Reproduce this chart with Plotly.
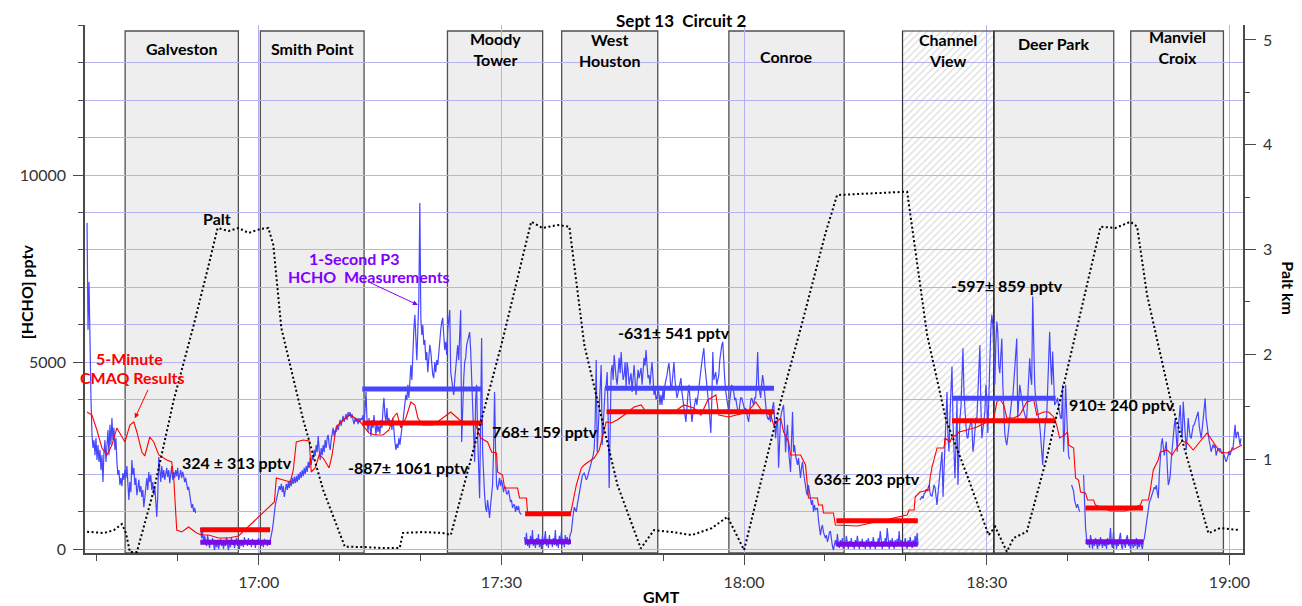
import plotly.graph_objects as go
import pandas as pd

BASE = pd.Timestamp("2000-09-13 16:00:00")


def at(minutes):
    return (BASE + pd.to_timedelta(minutes, unit="m")).to_pydatetime()


# ---------------- data ----------------
SITES = ["Galveston", "Smith Point", "Moody<br>Tower", "West<br>Houston", "Conroe",
         "Channel<br>View", "Deer Park", "Manviel<br>Croix"]
SITE_START = [43.48, 60.2, 83.33, 97.45, 118.12, 139.59, 150.92, 167.8]   # minutes after 16:00
SITE_END = [57.48, 73.02, 95.1, 109.33, 132.37, 150.85, 165.7, 179.26]
SITE_HATCHED = [False, False, False, False, False, True, False, False]

# 1-second P3 HCHO measurements (pptv), segments sampled every ~7.4 s
HCHO_SEG_START = [38.77, 52.81, 92.85, 141.76, 160.49, 161.97]
HCHO_STEP_MIN = 0.1232
HCHO_A = [8720, 5860, 7140, 4790, 3980, 3050, 2700, 2910, 2510, 2970,
          2380, 2780, 2330, 2650, 2110, 2510, 1790, 2590, 2910, 2330,
          2780, 3180, 2510, 3320, 2780, 3500, 2910, 3240, 2650, 2970,
          2330, 1980, 2110, 1710, 1900, 1680, 2030, 1850, 2110, 1900,
          2220, 1630, 1310, 1790, 1520, 2380, 1980, 2170, 1710, 1900,
          1440, 1630, 1850, 1520, 1680, 1390, 1580, 1120, 1310, 1630,
          1900, 1580, 2060, 1790, 1980, 1580, 1790, 1440, 1680, 1310,
          860, 1440, 2460, 2110, 1790, 2220, 1900, 2110, 1850, 2010,
          2170, 1930, 2110, 1760, 2010, 2220, 1850, 2060, 1900, 2110,
          1950, 2170, 1850, 2010, 2110, 1900, 2060, 1950, 1790, 1900,
          1680, 1580, 1660, 1440, 1230, 1100, 1200, 990, 1100, 960]
HCHO_B = [560, 290, 450, 190, 350, 240, 80, 370, 190, 30,
          240, 130, 290, 80, -30, 190, 50, 240, 0, 130,
          270, 80, 190, 0, 210, 80, 320, 110, -30, 190,
          50, 290, 110, 210, 30, 160, 290, 80, 190, 0,
          240, 80, 210, 50, 320, 130, 240, 80, 290, 110,
          210, 50, 270, 110, 190, 30, 240, 110, 290, 130,
          240, 80, 210, 50, 270, 130, 240, 80, 210, 110,
          240, 350, 510, 720, 990, 1180, 1310, 1470, 1580, 1680,
          1580, 1740, 1520, 1680, 1390, 1630, 1740, 1580, 1790, 1630,
          1850, 1680, 1900, 1740, 1930, 1760, 1950, 1790, 2010, 1850,
          2060, 1900, 2110, 1950, 2170, 2010, 2220, 2060, 2330, 2170,
          2430, 2250, 2510, 2380, 2650, 2490, 2780, 2590, 3020, 2650,
          2380, 2700, 2510, 2780, 2590, 2910, 2700, 2970, 3050, 2780,
          2650, 2910, 3130, 3240, 3020, 3180, 3130, 3320, 3180, 3340,
          3450, 3290, 3500, 3560, 3400, 3500, 3610, 3450, 3660, 3560,
          3660, 3500, 3610, 3450, 3340, 3500, 3400, 3500, 3340, 3500,
          3400, 3500, 3450, 3580, 3320, 3720, 4200, 3450, 3130, 3500,
          3240, 3020, 3450, 3240, 3580, 3320, 3050, 3400, 3130, 3290,
          3080, 3450, 3240, 3720, 4040, 3580, 3400, 3770, 3320, 3500,
          3290, 3450, 3180, 3500, 3050, 2860, 2650, 2810, 2700, 2970,
          2780, 3130, 3240, 3400, 3660, 3850, 4120, 3980, 4390, 4040,
          4650, 4920, 4520, 5320, 5860, 6260, 5460, 5050, 5860, 6660,
          9250, 6180, 5720, 5990, 5460, 5590, 5050, 5270, 4730, 5050,
          5460, 5270, 4840, 4650, 4570, 5000, 4730, 5050, 4920, 5320,
          5590, 5860, 6070, 6180, 5720, 5320, 5540, 5190, 5860, 6260,
          6390, 4730, 4520, 4250, 4120, 4520, 4920, 5270, 5450, 5050,
          5860, 6390, 2860, 3980, 4520, 5000, 5110, 5450, 5590, 5720,
          5800, 5320, 4520, 4040, 3180, 2330, 3980, 4390, 3050, 2110,
          1360, 3450, 5640, 2590, 1850, 1440, 1100, 990, 1310, 1040,
          830, 1180, 1440, 1710, 2650, 4200, 2650, 1710, 1580, 1790,
          1900, 1680, 1850, 1710, 1520, 1680, 1630, 1470, 1470, 1580,
          1360, 1260, 1310, 1100, 1180, 1180, 990, 1150, 1040, 1150,
          990, 940, 940]
HCHO_C = [320, 110, 430, 80, 240, 30, 350, 130, 510, 80,
          240, 30, 290, 110, 400, 50, 210, 0, 350, 110,
          240, 480, 80, 270, 30, 370, 130, 240, 50, 290,
          110, 510, 80, 210, 30, 350, 130, 450, 110, 270,
          50, 370, 160, 320, 110, 290, 400, 450, 780, 950,
          1120, 1050, 990, 1180, 1350, 1520, 1650, 1790, 1950, 2000,
          2030, 1950, 1850, 1900, 2000, 2110, 2200, 2300, 2450, 2510,
          2700, 3450, 5050, 2590, 3180, 3850, 4520, 4920, 2780, 3450,
          4040, 4310, 4390, 4730, 3450, 1630, 3180, 4730, 4920, 4520,
          5190, 4790, 4570, 4390, 4920, 5110, 4700, 5270, 4840, 4520,
          4650, 5000, 4310, 5000, 4790, 4390, 4570, 4700, 4200, 4730,
          4920, 4520, 4120, 4470, 4790, 4570, 4700, 4840, 4390, 4790,
          5110, 4900, 5320, 4920, 4570, 4650, 4390, 4730, 5000, 4570,
          4120, 4300, 4000, 4040, 4250, 4170, 3850, 4120, 3850, 4250,
          3980, 4390, 4500, 4650, 4840, 4970, 4650, 4250, 4390, 4730,
          5000, 4520, 4200, 4040, 4150, 4310, 4470, 4570, 4200, 3930,
          3720, 3580, 3400, 3850, 4120, 4390, 3980, 3580, 3400, 3600,
          3770, 3980, 4040, 3850, 4120, 4300, 4520, 4730, 5000, 5200,
          5370, 4920, 4570, 4390, 4100, 3850, 3450, 3100, 3980, 5270,
          4520, 4650, 4730, 4390, 4570, 4650, 5050, 5320, 5450, 5540,
          4920, 4520, 4200, 3980, 3850, 3660, 3980, 4250, 4390, 4300,
          4200, 3980, 4040, 3850, 3720, 3580, 3850, 4040, 4040, 3950,
          3850, 3720, 3770, 3580, 3500, 3400, 3720, 3980, 4040, 3950,
          3850, 4040, 4040, 4520, 5270, 4390, 4200, 4040, 4390, 4650,
          4450, 4120, 3770, 3600, 3500, 3450, 3580, 3400, 3660, 3850,
          3930, 3450, 2960, 3320, 3500, 2170, 2910, 3500, 3660, 3770,
          3850, 3320, 2590, 3050, 3320, 2650, 2330, 2060, 2910, 3660,
          2590, 2780, 2510, 2400, 2250, 2430, 2110, 1900, 2170, 2330,
          2060, 1850, 1630, 1500, 1440, 1710, 1520, 1360, 1180, 1310,
          990, 1180, 1040, 1070, 1100, 780, 560, 370, 560, 640,
          450, 330, 290, 370, 190, 290, 450, 480, 240, 80,
          -30, 110, 240, 80, 400, 130, 30, 240, 80, 290,
          0, 190, 80, 350, 110, 0, 210, 80, 290, 50,
          160, 0, 240, 80, 350, 110, 0, 210, 80, 270,
          50, 190, 0, 240, 80, 290, 110, 0, 210, 80,
          320, 110, 0, 190, 80, 290, 130, 480, 110, 0,
          210, 80, 290, 130, 560, 110, 0, 240, 80, 290,
          130, 0, 240, 80, 270, 110, 480, 80, 240, 30,
          190, 80, 290, 110, 0, 240, 80, 320, 130, 30,
          240, 80, 350, 130, 430, 110]
HCHO_D = [1310, 1380, 1410, 1350, 1480, 1500, 1600, 1550, 1650, 1710,
          1500, 1420, 1410, 1600, 1710, 1650, 1300, 1180, 1500, 1800,
          1980, 2400, 2600, 1400, 2200, 2960, 3500, 4200, 3000, 2600,
          3600, 4300, 4880, 3400, 2500, 1890, 2800, 3980, 1710, 3000,
          3500, 3800, 4560, 5370, 4200, 3600, 3300, 3000, 2960, 3200,
          3320, 3400, 3320, 2600, 2800, 3200, 3500, 3500, 4300, 5000,
          5450, 3800, 2960, 3200, 3500, 3670, 4390, 4000, 3100, 3800,
          5000, 5900, 6260, 5990, 4800, 4390, 5500, 6080, 5800, 4900,
          4700, 5200, 5630, 4390, 3700, 3100, 2900, 2780, 3000, 3300,
          3500, 3800, 4000, 4040, 4500, 5000, 5300, 5630, 3500, 4000,
          4390, 4200, 4000, 3940, 3700, 3600, 3500, 3500, 4000, 4600,
          5100, 4600, 4390, 6750, 5000, 4390, 4000, 3850, 3600, 3450,
          3320, 3000, 2600, 2250, 2800, 3300, 3500, 3500, 4200, 5000,
          5810, 5000, 4390, 5280, 4600, 3850, 3900, 4000, 4040, 3800,
          3600, 3500, 3500, 4390, 2600, 3200, 4390, 3500, 3000, 2510,
          2400]
HCHO_E = [1710, 1600, 1550, 1300, 1180, 1100, 1200, 1040, 1000]
HCHO_F = [1980, 1200, 560, 290, 110, 240, 30, 370, 130, 0,
          240, 80, 290, 110, 0, 210, 80, 320, 130, 30,
          240, 80, 190, 0, 290, 110, 210, 560, 130, 30,
          450, 110, 240, 0, 190, 80, 290, 430, 80, 0,
          240, 110, 30, 290, 370, 80, 210, 0, 240, 110,
          30, 190, 80, 290, 0, 160, 50, 240, 80, 0,
          210, 290, 480, 700, 850, 1180, 1250, 1310, 1400, 1450,
          1530, 1650, 1600, 1710, 1500, 1360, 2000, 2600, 2800, 2960,
          2600, 2500, 2700, 2870, 2200, 1710, 1800, 1980, 2400, 2780,
          3000, 3300, 3500, 2800, 2600, 3200, 3600, 3850, 3200, 2960,
          3940, 3500, 3000, 2650, 3000, 3500, 3200, 3000, 2960, 3100,
          3300, 3320, 3400, 3500, 3600, 3670, 3300, 3100, 2960, 3200,
          3500, 3800, 4030, 3500, 3300, 3000, 2900, 2780, 2600, 2700,
          2800, 2700, 2780, 2500, 2600, 2700, 2650, 2690, 2600, 2550,
          2600, 2500, 2400, 2330, 2400, 2500, 2600, 2510, 2600, 2700,
          2690, 3000, 3320, 2960, 3100, 3130, 2900, 2780, 2960]
HCHO_SEGS = [HCHO_A, HCHO_B, HCHO_C, HCHO_D, HCHO_E, HCHO_F]

# 5-minute CMAQ results (pptv)
CMAQ_T = [38.77, 39.38, 39.99, 40.61, 41.23, 41.85, 42.46, 43.08, 43.45, 44.07,
          44.56, 44.93, 45.55, 45.91, 46.53, 47.02, 47.64, 48.63, 49.24, 49.49,
          49.86, 50.48, 51.33, 52.32, 52.93, 53.8, 55.03, 56.26, 57.49, 61.93,
          62.17, 63.04, 63.9, 64.27, 64.64, 65.5, 66.24, 66.49, 66.98, 67.47,
          67.96, 68.7, 69.07, 69.57, 70.43, 71.29, 71.91, 72.65, 73.63, 74.37,
          75.36, 76.1, 76.59, 77.08, 77.57, 78.19, 78.81, 79.3, 79.67, 80.28,
          81.52, 82.75, 83.73, 84.84, 85.83, 86.69, 87.43, 88.29, 88.79, 89.4,
          89.52, 90.14, 90.39, 91.99, 92.24, 93.1, 93.23, 95.69, 98.53, 98.77,
          99.26, 99.88, 100.24, 100.74, 101.47, 102.09, 102.46, 102.95, 103.57, 104.31,
          105.17, 106.4, 107.27, 108.0, 109.73, 111.33, 112.56, 113.79, 114.66, 115.52,
          116.51, 116.88, 118.11, 120.45, 121.44, 122.3, 123.29, 123.66, 124.52, 124.89,
          125.26, 125.51, 125.75, 126.98, 127.6, 127.96, 129.07, 129.19, 129.69, 129.81,
          131.04, 131.29, 134.0, 136.96, 139.3, 140.16, 140.41, 141.02, 141.15, 141.76,
          142.87, 142.99, 143.24, 143.86, 144.72, 144.84, 145.46, 145.71, 146.32, 146.57,
          147.56, 148.79, 150.02, 150.88, 151.25, 151.62, 152.11, 152.48, 153.35, 154.08,
          154.95, 155.81, 156.18, 157.04, 157.66, 158.27, 158.64, 159.01, 159.63, 160.0,
          160.12, 160.74, 160.98, 161.35, 161.6, 162.21, 162.46, 163.2, 163.44, 165.29,
          167.14, 168.99, 169.23, 169.97, 170.22, 170.59, 171.2, 171.45, 172.31, 172.93,
          173.3, 174.16, 174.78, 175.52, 177.24, 177.98, 178.84, 179.7, 181.55]
CMAQ_V = [3663, 3583, 3182, 2701, 2514, 2781, 3236, 2995, 2861, 3316,
          3396, 3129, 2594, 2487, 2995, 2861, 2514, 2380, 2326, 1899,
          508, 455, 588, 428, 374, 374, 294, 294, 348, 1257,
          1899, 1845, 1792, 2112, 2861, 2915, 2888, 2059, 2166, 2514,
          2433, 2166, 2514, 3262, 3449, 3583, 3503, 3369, 3102, 3048,
          3048, 3182, 3503, 3637, 3236, 3503, 3931, 3851, 3503, 3316,
          3316, 3503, 3663, 3449, 3369, 3396, 2968, 2861, 2594, 2567,
          2059, 1979, 1631, 1631, 1364, 1364, 963, 936, 936, 1177,
          1711, 2166, 2246, 2326, 2433, 2647, 2995, 3396, 3369, 3449,
          3583, 3797, 3851, 3637, 3663, 3663, 3851, 3770, 3583, 3984,
          4118, 3583, 3530, 3663, 3931, 3663, 3583, 3316, 3503, 3129,
          2968, 2861, 2514, 2514, 2246, 1364, 1364, 1177, 1177, 963,
          963, 642, 615, 749, 856, 909, 1043, 1043, 1390, 1524,
          1578, 1899, 2193, 2701, 2701, 2968, 2861, 2995, 3048, 3129,
          3182, 3262, 3396, 3503, 3931, 4011, 3851, 3503, 3503, 3583,
          3931, 3984, 3583, 3663, 3663, 3530, 3316, 2968, 3048, 3129,
          2781, 2701, 1899, 1845, 1524, 1497, 1310, 1310, 1177, 1016,
          1016, 1177, 1310, 1310, 1578, 2112, 2380, 2594, 2647, 2514,
          2647, 2888, 2834, 2647, 3102, 2861, 2594, 2567, 2781]

# Pressure altitude (km)
PALT_T = [38.78, 40.87, 42.1, 43.08, 43.58, 44.07, 44.93, 47.03, 49.49, 51.96,
          53.81, 54.91, 56.27, 57.5, 58.73, 60.2, 61.19, 61.8, 62.79, 65.5,
          67.97, 70.64, 72.9, 75.36, 77.42, 77.83, 80.29, 82.75, 83.74, 85.22,
          87.07, 90.15, 93.68, 95.08, 96.92, 98.4, 100.25, 102.47, 104.35, 107.23,
          108.87, 111.09, 113.55, 116.02, 117.95, 120.0, 122.18, 124.52, 127.11, 130.06,
          131.5, 135.73, 140.16, 142.63, 144.97, 147.56, 150.23, 151.04, 152.49, 153.31,
          154.95, 157.41, 159.88, 162.22, 164.07, 165.91, 167.76, 168.59, 169.82, 172.69,
          175.15, 177.41, 178.85, 181.31]
PALT_KM = [0.306, 0.294, 0.322, 0.379, 0.294, 0.112, 0.112, 0.704, 1.563, 2.279,
           2.852, 3.205, 3.177, 3.205, 3.158, 3.196, 3.205, 3.043, 2.251, 1.372,
           0.704, 0.163, 0.16, 0.15, 0.15, 0.294, 0.303, 0.294, 0.274, 0.704,
           1.26, 2.136, 3.265, 3.205, 3.234, 3.218, 2.088, 1.372, 0.752, 0.147,
           0.322, 0.303, 0.274, 0.341, 0.449, 0.131, 0.80, 1.547, 2.279, 3.155,
           3.52, 3.539, 3.552, 2.184, 1.372, 0.847, 0.274, 0.354, 0.115, 0.246,
           0.306, 1.01, 1.833, 2.613, 3.218, 3.205, 3.265, 3.218, 2.566, 1.579,
           0.895, 0.291, 0.341, 0.322]

# Mean levels over the sampled intervals (pptv)
MEAS_MEAN_START = [72.8, 102.87, 145.71]
MEAS_MEAN_END = [87.6, 123.69, 158.52]
MEAS_MEAN_VAL = [4280, 4300, 4030]
CMAQ_MEAN_START = [52.77, 72.81, 92.93, 102.99, 131.41, 145.71, 162.21]
CMAQ_MEAN_END = [61.4, 87.68, 98.6, 123.73, 141.48, 158.52, 169.32]
CMAQ_MEAN_VAL = [516, 3369, 944, 3671, 757, 3431, 1096]
LOW_MEAN_START = [52.77, 92.93, 131.41, 162.21]
LOW_MEAN_END = [61.53, 98.6, 141.48, 169.32]
LOW_MEAN_VAL = [179, 195, 125, 195]

DIFF_TEXT = ["324 ± 313 pptv", "-887± 1061 pptv", "768± 159 pptv", "-631± 541 pptv",
             "636± 203 pptv", "-597± 859 pptv", "910± 240 pptv"]

YTICK_VALS = [0, 5000, 10000]
YTICK_TEXT = ["0", "5000", "10000"]
Y2TICK_VALS = [1, 2, 3, 4, 5]

# ---------------- layout constants ----------------
Y_MIN, Y_MAX = -107, 14011
Y2_MIN, Y2_MAX = 0.103, 5.143
BOX_TOP = 13851
X_RANGE = [at(38.52), at(181.68)]
FONT = "Lato, 'Liberation Sans', Arial, sans-serif"
GRID = "#b3b3f2"
AXC = "#4a4a4a"
BLUE = "#4646ff"
RED = "#ff0000"
PURPLE = "#7a0ae6"

DIFF_POS = [(57.25, 2326), (78.56, 2166), (95.44, 3129), (111.33, 5776),
            (135.17, 1872), (152.48, 7033), (166.77, 3877)]
SITE_LABEL_Y = [13370, 13370, 13357, 13343, 13156, 13330, 13504, 13410]

fig = go.Figure()

# site boxes
shapes = []
for s, e, h in zip(SITE_START, SITE_END, SITE_HATCHED):
    if h:
        fig.add_trace(go.Scatter(
            x=[at(s), at(e), at(e), at(s), at(s)],
            y=[Y_MIN, Y_MIN, BOX_TOP, BOX_TOP, Y_MIN],
            mode="lines", fill="toself", fillcolor="rgba(0,0,0,0)",
            fillpattern=dict(shape="/", fgcolor="#b8b8b8", bgcolor="rgba(255,255,255,0)",
                             size=5, solidity=0.25),
            line=dict(color="#333333", width=1.2), hoverinfo="skip"))
    else:
        shapes.append(dict(type="rect", xref="x", yref="y", x0=at(s), x1=at(e),
                           y0=Y_MIN, y1=BOX_TOP, layer="below",
                           fillcolor="#eeeeee", line=dict(color="#505050", width=1.3)))

# 1-second measurements
hx, hy = [], []
for start, seg in zip(HCHO_SEG_START, HCHO_SEGS):
    for i, v in enumerate(seg):
        hx.append(at(start + i * HCHO_STEP_MIN))
        hy.append(v)
    hx.append(None)
    hy.append(None)
fig.add_trace(go.Scatter(x=hx, y=hy, mode="lines", line=dict(color=BLUE, width=1.2),
                         connectgaps=False, name="1-Second P3 HCHO"))

# CMAQ
fig.add_trace(go.Scatter(x=[at(t) for t in CMAQ_T], y=CMAQ_V, mode="lines",
                         line=dict(color=RED, width=1.1), name="CMAQ"))


def bars(starts, ends, vals, color):
    bx, by = [], []
    for s, e, v in zip(starts, ends, vals):
        bx += [at(s), at(e), None]
        by += [v, v, None]
    return go.Scatter(x=bx, y=by, mode="lines", line=dict(color=color, width=5),
                      hoverinfo="skip")


fig.add_trace(bars(MEAS_MEAN_START, MEAS_MEAN_END, MEAS_MEAN_VAL, BLUE))
fig.add_trace(bars(CMAQ_MEAN_START, CMAQ_MEAN_END, CMAQ_MEAN_VAL, RED))
fig.add_trace(bars(LOW_MEAN_START, LOW_MEAN_END, LOW_MEAN_VAL, PURPLE))

# Palt
fig.add_trace(go.Scatter(x=[at(t) for t in PALT_T], y=PALT_KM, yaxis="y2", mode="lines",
                         line=dict(color="black", width=2, dash="2px,2.5px"), name="Palt"))

ann = []
bold = dict(family=FONT, size=16, color="black")
for name, s, e, y in zip(SITES, SITE_START, SITE_END, SITE_LABEL_Y):
    ann.append(dict(x=at((s + e) / 2), y=y, xref="x", yref="y", text="<b>%s</b>" % name,
                    showarrow=False, font=bold, xanchor="center", yanchor="middle"))
for txt, (t, v) in zip(DIFF_TEXT, DIFF_POS):
    ann.append(dict(x=at(t), y=v, xref="x", yref="y", text="<b>%s</b>" % txt,
                    showarrow=False, font=bold, xanchor="center", yanchor="middle"))
ann.append(dict(x=at(54.78), y=8824, xref="x", yref="y", text="<b>Palt</b>",
                showarrow=False, font=bold))
pfont = dict(family=FONT, size=16, color="#8000ff")
ann.append(dict(x=at(71.78), y=7755, xref="x", yref="y", text="<b>1-Second P3</b>",
                showarrow=False, font=pfont))
ann.append(dict(x=at(73.63), y=7273, xref="x", yref="y", text="<b>HCHO\u00a0 Measurements</b>",
                showarrow=False, font=pfont))
ann.append(dict(x=at(79.67), y=6525, ax=at(73.51), ay=7148, xref="x", yref="y",
                axref="x", ayref="y", text="", showarrow=True, arrowhead=2,
                arrowsize=1, arrowwidth=1, arrowcolor="#8000ff"))
rfont = dict(family=FONT, size=16, color=RED)
ann.append(dict(x=at(44.06), y=5107, xref="x", yref="y", text="<b>5-Minute</b>",
                showarrow=False, font=rfont))
ann.append(dict(x=at(44.39), y=4599, xref="x", yref="y", text="<b>CMAQ Results</b>",
                showarrow=False, font=rfont))
ann.append(dict(x=at(44.68), y=3495, ax=at(46.4), ay=4297, xref="x", yref="y",
                axref="x", ayref="y", text="", showarrow=True, arrowhead=2,
                arrowsize=1, arrowwidth=1, arrowcolor=RED))
# titles
ann.append(dict(x=0.515, y=1.0076, xref="paper", yref="paper",
                text="<b>Sept 13\u00a0 Circuit 2</b>", showarrow=False,
                font=dict(family=FONT, size=17, color="black"), yanchor="middle"))
ann.append(dict(x=-0.0508, y=0.494, xref="paper", yref="paper", text="<b>[HCHO] pptv</b>",
                textangle=-90, showarrow=False, font=bold, xanchor="center", yanchor="middle"))
ann.append(dict(x=1.0385, y=0.502, xref="paper", yref="paper", text="<b>Palt km</b>",
                textangle=90, showarrow=False, font=bold, xanchor="center", yanchor="middle"))
ann.append(dict(x=0.498, y=-0.0833, xref="paper", yref="paper", text="<b>GMT</b>",
                showarrow=False, font=bold, xanchor="center", yanchor="middle"))

tickfont = dict(family=FONT, size=16, color="#333333")
# the page body has an 8px margin, so the figure is drawn 8px right/down
fig.update_layout(
    width=1294, height=598,
    margin=dict(l=73, r=59, t=17, b=53),
    paper_bgcolor="white", plot_bgcolor="white",
    showlegend=False,
    shapes=shapes,
    annotations=ann,
    xaxis=dict(type="date", range=X_RANGE, tickformat="%H:%M",
               tick0="2000-09-13 17:00:00", dtick=30 * 60 * 1000,
               showgrid=True, gridcolor=GRID, gridwidth=1,
               ticks="outside", ticklen=10, tickcolor=AXC, tickwidth=1.2,
               showline=True, linecolor=AXC, linewidth=1.5,
               tickfont=tickfont, ticklabelstandoff=4, zeroline=False,
               minor=dict(dtick=10 * 60 * 1000, tick0="2000-09-13 17:00:00",
                          ticks="outside", ticklen=6, tickcolor=AXC, showgrid=False)),
    yaxis=dict(range=[Y_MIN, Y_MAX], tickvals=YTICK_VALS, ticktext=YTICK_TEXT,
               showgrid=True, gridcolor=GRID, gridwidth=1,
               ticks="outside", ticklen=10, tickcolor=AXC, tickwidth=1.2,
               showline=True, linecolor=AXC, linewidth=1.5,
               tickfont=tickfont, ticklabelstandoff=4, zeroline=False,
               minor=dict(dtick=1000, tick0=0, ticks="outside", ticklen=5,
                          tickcolor=AXC, showgrid=True, gridcolor=GRID, gridwidth=1)),
    yaxis2=dict(range=[Y2_MIN, Y2_MAX], overlaying="y", side="right", anchor="x",
                tickvals=Y2TICK_VALS, showgrid=False, zeroline=False,
                ticks="outside", ticklen=11, tickcolor=AXC, tickwidth=1.2,
                showline=True, linecolor=AXC, linewidth=1.5,
                tickfont=tickfont, ticklabelstandoff=4,
                minor=dict(dtick=0.5, tick0=0, ticks="outside", ticklen=5,
                           tickcolor=AXC, showgrid=False)),
)

fig.write_html("out.html")
